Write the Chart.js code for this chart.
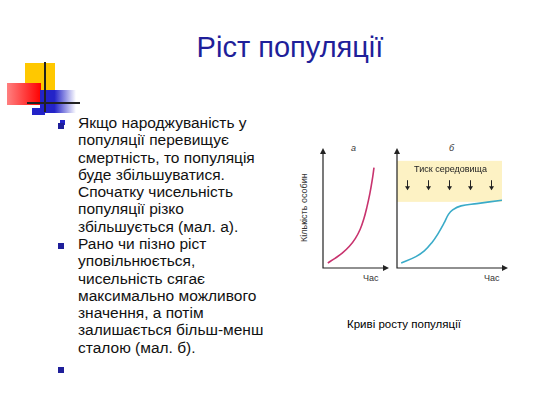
<!DOCTYPE html>
<html><head><meta charset="utf-8">
<script src="https://cdn.jsdelivr.net/npm/chart.js@4"></script>
<style>
body{margin:0;width:533px;height:400px;background:#fff;position:relative;overflow:hidden;font-family:"Liberation Sans",Arial,sans-serif}
.abs{position:absolute}
#title{left:0;width:580px;top:31px;text-align:center;font-size:29px;color:#1f1f9a}
.txt{left:78px;font-size:15.5px;line-height:17.3px;color:#111}
.bul{left:58px;width:6px;height:6px;background:#1f1f9a}
.lbl{font-size:9px;color:#333}
</style></head><body>
<div class="abs" id="title">Ріст популяції</div>
<div class="abs" style="left:25px;top:63px;width:30px;height:30px;background:#ffc800"></div>
<div class="abs" style="left:7px;top:83px;width:34px;height:22px;background:linear-gradient(to right,#ff8080,#f00)"></div>
<div class="abs" style="left:40px;top:90px;width:36px;height:23px;background:linear-gradient(to right,#2323c8,#2323c8 40%,rgba(35,35,200,0))"></div>
<div class="abs" style="left:32px;top:108px;width:13px;height:7px;background:#2323c8"></div>
<div class="abs" style="left:44px;top:62px;width:2px;height:50px;background:#222"></div>
<div class="abs" style="left:27px;top:102px;width:53px;height:2px;background:#222"></div>
<div class="abs" style="left:60px;top:120px;width:5px;height:5px;background:#2323c8"></div>

<div class="abs bul" style="top:123px"></div>
<div class="abs txt" style="top:114px">Якщо народжуваність у<br>популяції перевищує<br>смертність, то популяція<br>буде збільшуватися.<br>Спочатку чисельність<br>популяції різко<br>збільшується (мал. а).</div>
<div class="abs bul" style="top:243px"></div>
<div class="abs txt" style="top:235px">Рано чи пізно ріст<br>уповільнюється,<br>чисельність сягає<br>максимально можливого<br>значення, а потім<br>залишається більш-менш<br>сталою (мал. б).</div>
<div class="abs bul" style="top:367px"></div>

<div class="abs lbl" style="left:351px;top:143px;font-style:italic">а</div>
<div class="abs lbl" style="left:449px;top:143px;font-style:italic">б</div>
<div class="abs lbl" style="left:299px;top:242px;transform:rotate(-90deg);transform-origin:0 0;white-space:nowrap">Кількість особин</div>
<div class="abs lbl" style="left:363px;top:273px">Час</div>
<div class="abs lbl" style="left:484px;top:273px">Час</div>
<div class="abs" style="left:347px;top:318px;font-size:11.5px">Криві росту популяції</div>

<canvas class="abs" id="ca" style="left:318px;top:148px"></canvas>
<canvas class="abs" id="cb" style="left:392px;top:148px"></canvas>
<script>
const curveA = [[0.8,0.44],[2,0.85],[3.2,1.3],[4.4,1.9],[5.4,2.6],[6.2,3.4],[6.8,4.3],[7.3,5.3],[7.8,6.5],[8.2,7.7],[8.5,8.8]];
const curveB = [[0.4,0.44],[1.8,1.0],[2.6,1.5],[3.3,2.2],[3.9,3.0],[4.5,3.97],[4.9,4.7],[5.3,5.1],[6.1,5.45],[7.6,5.65],[10,5.95]];
const bandLow = 5.8, bandHigh = 9.4;
const arrowX = [1, 3, 5, 7, 9];

const axesArrows = {
  id: 'axesArrows',
  afterDraw(c) {
    const {ctx, chartArea: a} = c;
    ctx.save();
    ctx.fillStyle = '#222'; ctx.strokeStyle = '#222'; ctx.lineWidth = 1.2;
    ctx.beginPath(); ctx.moveTo(a.left, a.top - 4); ctx.lineTo(a.left, a.bottom); ctx.lineTo(a.right + 4, a.bottom); ctx.stroke();
    ctx.beginPath(); ctx.moveTo(a.left - 3, a.top); ctx.lineTo(a.left + 3, a.top); ctx.lineTo(a.left, a.top - 6); ctx.fill();
    ctx.beginPath(); ctx.moveTo(a.right, a.bottom - 3); ctx.lineTo(a.right, a.bottom + 3); ctx.lineTo(a.right + 6, a.bottom); ctx.fill();
    ctx.restore();
  }
};
const band = {
  id: 'band',
  beforeDatasetsDraw(c) {
    const {ctx, chartArea: a, scales: {x, y}} = c;
    ctx.save();
    ctx.fillStyle = '#fdf2c4';
    ctx.fillRect(a.left, y.getPixelForValue(bandHigh), a.right - a.left, y.getPixelForValue(bandLow) - y.getPixelForValue(bandHigh));
    ctx.fillStyle = '#222'; ctx.font = '9px "Liberation Sans"'; ctx.textAlign = 'center';
    ctx.fillText('Тиск середовища', x.getPixelForValue(5.1), y.getPixelForValue(8.4));
    arrowX.forEach(v => {
      const px = x.getPixelForValue(v), t = y.getPixelForValue(7.7), b = y.getPixelForValue(6.9);
      ctx.strokeStyle = '#222'; ctx.lineWidth = 1;
      ctx.beginPath(); ctx.moveTo(px, t); ctx.lineTo(px, b); ctx.stroke();
      ctx.beginPath(); ctx.moveTo(px - 2.5, b - 3); ctx.lineTo(px + 2.5, b - 3); ctx.lineTo(px, b + 1); ctx.fill();
    });
    ctx.restore();
  }
};
function opts(pad) {
  return {
    responsive: false, animation: false,
    layout: {padding: pad},
    plugins: {legend: {display: false}, tooltip: {enabled: false}},
    scales: {
      x: {type: 'linear', min: 0, max: 10, display: false},
      y: {min: 0, max: 10, display: false}
    }
  };
}
function make(id, w, h, pts, color, pad, plugins) {
  const cv = document.getElementById(id); cv.width = w; cv.height = h;
  new Chart(cv, {
    type: 'line',
    data: {datasets: [{data: pts.map(p => ({x: p[0], y: p[1]})), borderColor: color, borderWidth: 1.6, pointRadius: 0, tension: 0.4}]},
    options: opts(pad),
    plugins: plugins
  });
}
make('ca', 75, 125, curveA, '#c8336e', {left: 5, top: 6, right: 10, bottom: 5}, [axesArrows]);
make('cb', 118, 125, curveB, '#3aabc8', {left: 5, top: 6, right: 8, bottom: 5}, [band, axesArrows]);
</script>
</body></html>
